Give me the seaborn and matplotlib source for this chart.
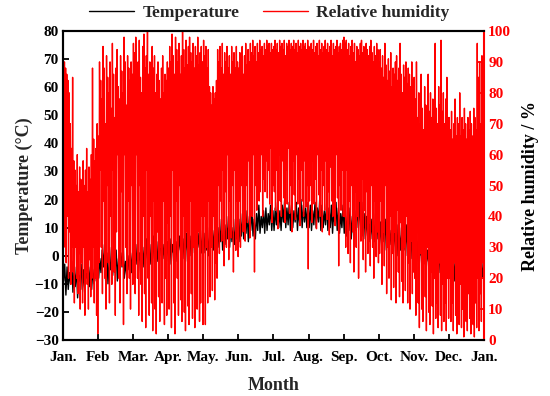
import numpy as np
import pandas as pd
import matplotlib
matplotlib.use("Agg")
import matplotlib.pyplot as plt
import seaborn as sns

month_labels = ["Jan.", "Feb", "Mar.", "Apr.", "May.", "Jun.", "Jul.", "Aug.",
                "Sep.", "Oct.", "Nov.", "Dec.", "Jan."]

# Relative humidity (%) daily maximum, 30 days per month
rh_hi = [
    92, 90, 88, 86, 84, 80, 70, 62, 85, 58, 55, 50, 60, 48, 56, 52, 45, 58, 50, 55, 62, 48, 56, 52, 60, 88, 65, 58, 62, 70,
    66, 90, 84, 78, 95, 88, 70, 92, 85, 80, 90, 75, 96, 86, 72, 88, 94, 82, 78, 92, 87, 80, 98, 90, 76, 92, 88, 84, 90, 86,
    96, 93, 98, 88, 90, 97, 85, 80, 95, 99, 88, 92, 100, 86, 90, 84, 95, 88, 92, 80, 86, 90, 84, 78, 88, 92, 80, 86, 84, 90,
    88, 95, 90, 99, 92, 86, 98, 94, 90, 96, 86, 92, 100, 94, 88, 97, 89, 95, 98, 93, 90, 96, 88, 95, 92, 98, 89, 93, 95, 90,
    97, 92, 95, 88, 94, 82, 80, 76, 82, 78, 80, 84, 94, 90, 95, 88, 96, 86, 93, 90, 95, 88, 92, 86, 95, 90, 93, 88, 95, 90,
    88, 93, 90, 95, 86, 92, 96, 89, 94, 90, 96, 93, 97, 92, 95, 90, 96, 93, 97, 94, 95, 92, 96, 94, 97, 95, 96, 93, 96, 94,
    95, 97, 94, 96, 93, 97, 95, 96, 94, 97, 92, 96, 95, 97, 94, 96, 95, 97, 94, 96, 93, 97, 95, 96, 94, 97, 95, 96, 94, 97,
    95, 92, 96, 94, 97, 93, 95, 96, 92, 97, 94, 96, 93, 95, 97, 94, 96, 93, 95, 97, 92, 96, 94, 95, 97, 93, 95, 96, 94, 97,
    98, 96, 97, 94, 96, 92, 95, 97, 93, 96, 90, 95, 94, 92, 96, 97, 93, 95, 90, 96, 94, 92, 95, 97, 93, 90, 95, 92, 96, 94,
    90, 94, 88, 92, 85, 96, 89, 84, 91, 87, 93, 82, 88, 86, 90, 92, 84, 88, 96, 86, 80, 89, 85, 90, 83, 88, 86, 82, 90, 84,
    85, 78, 90, 72, 80, 70, 86, 75, 68, 82, 76, 70, 86, 74, 80, 72, 78, 68, 96, 75, 70, 82, 76, 97, 74, 80, 70, 78, 85, 72,
    72, 68, 74, 65, 70, 78, 66, 72, 70, 80, 66, 72, 68, 75, 70, 65, 72, 68, 74, 70, 66, 75, 72, 68, 96, 85, 90, 70, 92, 75,
]
# Relative humidity (%) daily minimum
rh_lo = [
    30, 45, 25, 40, 20, 35, 18, 30, 22, 12, 30, 20, 15, 28, 10, 25, 12, 30, 8, 22, 18, 10, 26, 14, 20, 30, 12, 20, 8, 2,
    25, 55, 30, 15, 45, 20, 10, 50, 25, 12, 40, 18, 55, 22, 8, 35, 60, 20, 12, 48, 24, 5, 60, 30, 15, 45, 20, 10, 50, 18,
    35, 15, 60, 20, 8, 50, 18, 6, 40, 15, 4, 55, 20, 8, 40, 12, 3, 45, 10, 2, 35, 14, 6, 30, 12, 45, 5, 20, 8, 38,
    10, 40, 4, 55, 12, 2, 45, 20, 8, 50, 13, 6, 40, 9, 3, 35, 11, 5, 45, 15, 7, 30, 4, 50, 10, 35, 6, 12, 40, 5,
    40, 5, 30, 12, 45, 14, 30, 16, 40, 13, 25, 20, 50, 28, 45, 32, 55, 24, 48, 30, 60, 26, 45, 33, 50, 22, 55, 29, 45, 27,
    45, 30, 50, 35, 55, 32, 50, 38, 58, 33, 48, 40, 60, 22, 50, 42, 55, 45, 48, 60, 40, 52, 48, 58, 46, 55, 44, 62, 38, 50,
    48, 42, 55, 36, 60, 45, 40, 58, 46, 38, 55, 44, 62, 41, 50, 35, 58, 47, 39, 60, 44, 52, 37, 55, 45, 40, 58, 43, 50, 23,
    45, 50, 38, 58, 44, 52, 36, 60, 47, 40, 55, 35, 50, 42, 58, 39, 48, 34, 56, 45, 40, 52, 37, 60, 46, 24, 50, 42, 55, 40,
    40, 30, 55, 28, 45, 25, 50, 35, 22, 48, 30, 40, 20, 45, 32, 52, 26, 42, 22, 48, 28, 38, 24, 50, 30, 20, 45, 27, 35, 25,
    28, 45, 18, 35, 24, 50, 15, 30, 20, 40, 13, 28, 17, 35, 12, 42, 22, 14, 38, 19, 12, 30, 16, 40, 12, 25, 10, 32, 15, 22,
    20, 8, 35, 12, 4, 28, 10, 6, 25, 14, 3, 30, 9, 5, 22, 11, 2, 20, 7, 12, 4, 25, 8, 3, 18, 6, 12, 3, 20, 7,
    20, 6, 12, 3, 25, 8, 2, 15, 5, 18, 4, 10, 1, 22, 6, 3, 15, 7, 2, 18, 5, 1, 12, 4, 20, 3, 15, 6, 25, 8,
]
# Temperature (°C) upper / lower swings, 15 two-day bins per month
t_hi = [
    -3, -4, -6, -2, -5, -4, -7, -3, -5, -6, -2, -4, -5, -3, -4,
    -1, 2, 4, 1, -2, 3, 0, 2, -1, 1, 3, -2, 0, 2, 1,
    2, 4, 1, 5, 3, 6, 2, 4, 7, 3, 5, 8, 4, 6, 5,
    6, 4, 8, 5, 7, 9, 6, 8, 5, 7, 10, 6, 8, 9, 7,
    8, 10, 7, 11, 9, 12, 10, 13, 9, 11, 14, 12, 10, 13, 12,
    13, 15, 12, 16, 14, 17, 13, 15, 18, 14, 16, 17, 15, 18, 16,
    17, 19, 16, 18, 20, 17, 19, 18, 16, 19, 17, 20, 18, 17, 19,
    18, 16, 19, 17, 20, 18, 16, 19, 17, 18, 16, 19, 17, 15, 18,
    16, 15, 17, 14, 16, 18, 20, 19, 15, 14, 16, 13, 15, 12, 14,
    12, 10, 13, 11, 9, 12, 10, 11, 8, 10, 9, 11, 8, 9, 7,
    6, 5, 3, 7, 4, 2, 5, 3, 1, 4, 2, 0, 3, 1, 2,
    0, 2, -2, 1, -1, -3, 0, -2, 1, -1, -4, -2, 0, -3, -1,
]
t_lo = [
    -9, -14, -12, -10, -13, -11, -15, -9, -12, -13, -8, -11, -12, -10, -9,
    -8, -6, -4, -9, -10, -5, -7, -6, -9, -5, -4, -8, -7, -5, -6,
    -5, -3, -6, -2, -4, -1, -5, -3, -1, -4, -2, 0, -3, -1, -2,
    -1, -3, 1, -2, 0, 2, -1, 1, -2, 0, 2, 1, 0, 3, 1,
    1, 2, 0, 3, 2, 4, 3, 5, 2, 4, 6, 3, 5, 4, 6,
    5, 7, 6, 8, 5, 9, 7, 6, 9, 8, 10, 8, 9, 11, 9,
    9, 11, 10, 9, 12, 10, 11, 9, 10, 12, 9, 11, 10, 12, 10,
    10, 9, 11, 10, 12, 9, 10, 11, 9, 10, 8, 11, 9, 8, 10,
    8, 7, 9, 6, 8, 9, 10, 9, 7, 6, 7, 5, 6, 5, 6,
    4, 3, 5, 2, 3, 4, 1, 3, 0, 2, 1, 2, 0, 1, -1,
    -1, -2, -4, 0, -3, -5, -2, -4, -6, -3, -5, -6, -4, -7, -5,
    -7, -6, -9, -8, -8, -10, -7, -9, -6, -8, -10, -8, -7, -9, -8,
]


def zigzag(hi, lo):
    """Alternate each bin's high and low swing along the 365-day axis."""
    w = 365.0 / len(hi)
    xs, ys = [], []
    for i, (a, b) in enumerate(zip(hi, lo)):
        xs += [(i + 0.25) * w, (i + 0.75) * w]
        ys += [a, b]
    return xs, ys


x_rh, y_rh = zigzag(rh_hi, rh_lo)
x_t, y_t = zigzag(t_lo, t_hi)
df_rh = pd.DataFrame({"day": x_rh, "rh": y_rh})
df_t = pd.DataFrame({"day": x_t, "temp": y_t})

sns.set_style("ticks")
plt.rcParams["font.family"] = ["Liberation Serif", "DejaVu Serif"]
plt.rcParams["font.weight"] = "bold"

fig = plt.figure(figsize=(5.5, 3.96), dpi=100)
ax = fig.add_axes([0.1145, 0.1414, 0.7655, 0.7803])
ax2 = ax.twinx()

sns.lineplot(data=df_t, x="day", y="temp", ax=ax, color="black", linewidth=1.0,
             estimator=None, sort=False, label="Temperature", legend=False)
sns.lineplot(data=df_rh, x="day", y="rh", ax=ax2, color="#ff0000", linewidth=0.6,
             estimator=None, sort=False, label="Relative humidity", legend=False)

ax.set_xlim(0, 365)
ax.set_ylim(-30, 80)
ax2.set_ylim(0, 100)
ax.set_xticks(np.linspace(0, 365, 13))
ax.set_xticklabels(month_labels)
ax.set_yticks(np.arange(-30, 81, 10))
ax2.set_yticks(np.arange(0, 101, 10))

tick_fs = 11
for lab in ax.get_xticklabels() + ax.get_yticklabels():
    lab.set_fontsize(tick_fs)
    lab.set_fontweight("bold")
for lab in ax2.get_yticklabels():
    lab.set_fontsize(tick_fs)
    lab.set_fontweight("bold")
    lab.set_color("#ff0000")

ax.tick_params(axis="both", direction="in", length=4, width=1.3, pad=3, colors="black")
ax.tick_params(axis="x", pad=8)
ax2.tick_params(axis="y", direction="in", length=4, width=1.3, colors="#ff0000", pad=3)

for sp in ["left", "bottom", "top"]:
    ax.spines[sp].set_linewidth(1.5)
    ax.spines[sp].set_color("black")
    ax2.spines[sp].set_linewidth(1.5)
    ax2.spines[sp].set_color("black")
ax2.spines["right"].set_visible(True)
ax2.spines["right"].set_color("#ff0000")
ax2.spines["right"].set_linewidth(1.5)
ax.spines["right"].set_visible(False)

ax.set_xlabel("Month", fontsize=13, fontweight="bold", labelpad=9)
ax.set_ylabel("Temperature (\u00b0C)", fontsize=13, fontweight="bold", labelpad=1)
ax2.set_ylabel("Relative humidity / %", fontsize=13, fontweight="bold",
               color="black", labelpad=8)

h1, l1 = ax.get_legend_handles_labels()
h2, l2 = ax2.get_legend_handles_labels()
for h in h1 + h2:
    h.set_linewidth(1.0)
fig.legend(h1 + h2, l1 + l2, loc="center", bbox_to_anchor=(0.49, 0.967), ncol=2,
           frameon=False, prop={"size": 12.5, "weight": "bold"}, handlelength=2.6,
           columnspacing=1.3, handletextpad=0.5)

fig.savefig("out.png", dpi=100)
